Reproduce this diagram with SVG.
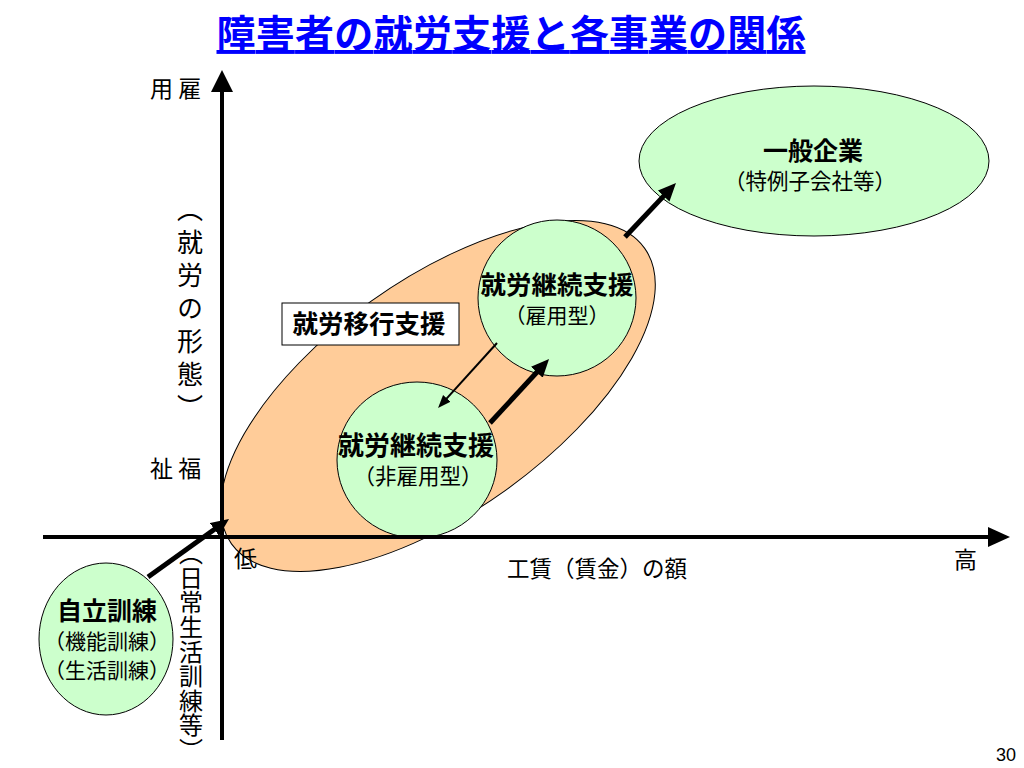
<svg xmlns="http://www.w3.org/2000/svg" width="1024" height="768" viewBox="0 0 1024 768">
<style>
text{font-family:"Noto Sans CJK JP","Liberation Sans",sans-serif;fill:#000}
.b{font-weight:bold}
.c{text-anchor:middle}
.green{fill:#CCFFCC;stroke:#000;stroke-width:1}
.orange{fill:#FFCC99;stroke:#000;stroke-width:1}
.thick{stroke:#000;stroke-width:5;fill:none}
.thin{stroke:#000;stroke-width:2;fill:none}
.axis{stroke:#000;stroke-width:4;fill:none}
.vt{writing-mode:vertical-rl}
</style>
<defs>
<marker id="headThick" markerUnits="userSpaceOnUse" markerWidth="20" markerHeight="18" refX="2" refY="8" orient="auto">
<path d="M0,0 L18,8 L0,16 z" fill="#000"/>
</marker>
<marker id="headThin" markerUnits="userSpaceOnUse" markerWidth="14" markerHeight="12" refX="1" refY="5" orient="auto">
<path d="M0,0 L13,5 L0,10 z" fill="#000"/>
</marker>
</defs>
<rect width="1024" height="768" fill="#fff"/>

<text x="511" y="48" class="b c" font-size="39" textLength="589" style="fill:#0000FF;text-decoration:underline">障害者の就労支援と各事業の関係</text>

<g id="node-ikou">
<ellipse class="orange" cx="438" cy="396" rx="254" ry="116" transform="rotate(-35.6 438 396)"/>
<rect x="282" y="303" width="177" height="42" fill="#fff" stroke="#000" stroke-width="1"/>
<text x="369" y="333" class="b c" font-size="25.5">就労移行支援</text>
</g>

<g id="node-ippan">
<ellipse class="green" cx="814" cy="161" rx="175" ry="75"/>
<text x="813" y="160" class="b c" font-size="25">一般企業</text>
<text x="810" y="189" class="c" font-size="21.5">（特例子会社等）</text>
</g>

<g id="node-keizoku-a">
<ellipse class="green" cx="557" cy="298" rx="79" ry="78"/>
<text x="557" y="294" class="b c" font-size="25.5">就労継続支援</text>
<text x="557" y="323" class="c" font-size="21">（雇用型）</text>
</g>

<g id="node-keizoku-b">
<ellipse class="green" cx="417" cy="460" rx="80" ry="78"/>
<text x="416" y="455" class="b c" font-size="26">就労継続支援</text>
<text x="418" y="484" class="c" font-size="21.5">（非雇用型）</text>
</g>

<g id="node-jiritsu">
<ellipse class="green" cx="106" cy="639" rx="67" ry="76"/>
<text x="107" y="620" class="b c" font-size="25">自立訓練</text>
<text x="107" y="649" class="c" font-size="21">（機能訓練）</text>
<text x="107" y="678" class="c" font-size="21">（生活訓練）</text>
</g>

<g id="axes">
<line class="axis" x1="222" y1="740" x2="222" y2="90"/>
<polygon points="211,92 233,92 222,70" fill="#000"/>
<line class="axis" x1="43" y1="537" x2="990" y2="537"/>
<polygon points="988,527 988,547 1010,537" fill="#000"/>
</g>

<g id="axis-labels">
<text x="150" y="97" font-size="23">用 雇</text>
<text x="150" y="477" font-size="23">祉 福</text>
<text x="190" y="196" class="vt" font-size="26" style="letter-spacing:7px">（就労の形態）</text>
<text x="191" y="541" class="vt" font-size="24" style="letter-spacing:0.6px">（日常生活訓練等）</text>
<text x="234" y="567" font-size="23">低</text>
<text x="597" y="577" class="c" font-size="22.5">工賃（賃金）の額</text>
<text x="954" y="568" font-size="23">高</text>
<text x="1016" y="761" font-size="18" style="font-family:'Liberation Sans',sans-serif;text-anchor:end">30</text>
</g>

<g id="connectors">
<line class="thick" x1="148" y1="577" x2="216" y2="528.3" marker-end="url(#headThick)"/>
<line class="thick" x1="490" y1="423" x2="538.2" y2="370.8" marker-end="url(#headThick)"/>
<line class="thick" x1="625" y1="237" x2="665" y2="194.6" marker-end="url(#headThick)"/>
<line class="thin" x1="497" y1="343" x2="446.1" y2="399.1" marker-end="url(#headThin)"/>
</g>
</svg>
